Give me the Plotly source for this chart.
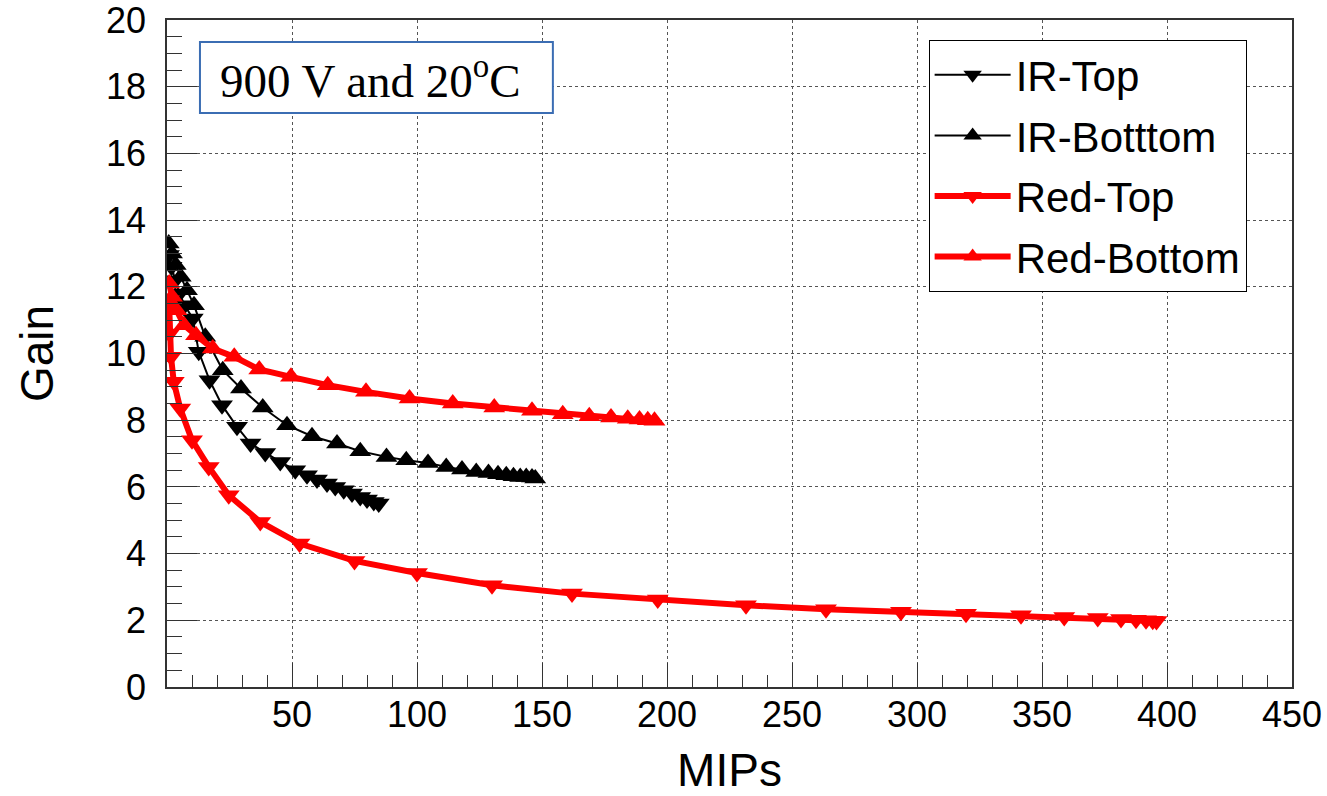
import plotly.graph_objects as go

# Gain vs. number of MIPs at 900 V, 20 C for the four SiPM/LED configurations
ir_top_mips = [0.8, 1.8, 3.3, 5.0, 7.0, 10.3, 12.7, 17.0, 22.0, 28.0, 33.4, 39.3,
               45.3, 51.3, 56.0, 60.0, 64.0, 67.3, 70.7, 74.0, 77.3, 80.0, 82.7, 84.7]
ir_top_gain = [12.95, 12.6, 12.2, 11.8, 11.45, 11.05, 10.05, 9.2, 8.45, 7.8, 7.3, 7.02,
               6.75, 6.5, 6.35, 6.22, 6.1, 6.0, 5.9, 5.8, 5.7, 5.62, 5.55, 5.5]

ir_bottom_mips = [0.7, 2.0, 3.5, 5.5, 8.0, 10.8, 15.3, 22.3, 29.6, 38.3, 48.0, 58.0,
                  68.0, 77.3, 87.8, 95.7, 104.4, 111.7, 118.0, 123.7, 128.6, 132.4,
                  135.7, 138.6, 141.3, 143.7, 146.0, 147.3]
ir_bottom_gain = [13.3, 13.0, 12.65, 12.3, 11.9, 11.45, 10.5, 9.5, 8.95, 8.38, 7.85,
                  7.52, 7.3, 7.07, 6.9, 6.8, 6.72, 6.6, 6.52, 6.45, 6.42, 6.38, 6.35,
                  6.32, 6.3, 6.3, 6.28, 6.25]

red_top_mips = [0.8, 1.0, 1.6, 2.7, 5.3, 10.0, 16.7, 24.7, 37.3, 53.0, 75.0, 100.0,
                130.0, 162.0, 196.3, 231.6, 263.6, 293.6, 319.6, 341.6, 358.9, 372.3,
                381.6, 387.6, 391.6, 394.3, 395.8]
red_top_gain = [11.6, 10.6, 9.9, 9.15, 8.35, 7.4, 6.6, 5.75, 4.95, 4.3, 3.78, 3.42,
                3.05, 2.8, 2.62, 2.45, 2.33, 2.26, 2.2, 2.15, 2.1, 2.07, 2.04, 2.02,
                2.0, 1.99, 1.98]

red_bottom_mips = [0.9, 2.0, 3.8, 6.8, 11.6, 18.3, 26.9, 36.9, 49.6, 64.3, 79.6, 97.0,
                   114.3, 130.9, 146.0, 158.3, 168.9, 177.6, 184.3, 189.0, 192.3, 195.0]
red_bottom_gain = [12.1, 11.7, 11.3, 10.85, 10.55, 10.15, 9.9, 9.52, 9.3, 9.05, 8.85,
                   8.65, 8.5, 8.38, 8.28, 8.18, 8.12, 8.08, 8.04, 8.02, 8.0, 7.98]

x_major = [50, 100, 150, 200, 250, 300, 350, 400, 450]
x_minor = [v for v in range(10, 450, 10) if v % 50]
y_major = list(range(0, 21, 2))
y_minor = [v / 2 for v in range(1, 40) if v % 4]

RED = "#ff0000"
BLACK = "#000000"

fig = go.Figure()

series = [
    ("IR-Top", ir_top_mips, ir_top_gain, BLACK, 2, "triangle-down"),
    ("IR-Botttom", ir_bottom_mips, ir_bottom_gain, BLACK, 2, "triangle-up"),
    ("Red-Top", red_top_mips, red_top_gain, RED, 6, "triangle-down"),
    ("Red-Bottom", red_bottom_mips, red_bottom_gain, RED, 6, "triangle-up"),
]
for name, xs, ys, color, lw, sym in series:
    fig.add_trace(go.Scatter(
        x=xs, y=ys, name=name, legendgroup=name, mode="lines+markers",
        line=dict(color=color, width=lw),
        marker=dict(symbol=sym, size=19, color=color, line=dict(width=0)),
    ))

axis_common = dict(
    showline=True, linecolor="#333333", linewidth=1.5, mirror=True,
    ticks="inside", tickcolor="#333333", tickwidth=1,
    showgrid=True, gridcolor="#555555", gridwidth=1, griddash="dot",
    zeroline=False, automargin=False,
    tickfont=dict(family="Liberation Sans, Arial", size=36, color="black"),
    title_font=dict(family="Liberation Sans, Arial", size=46, color="black"),
)

fig.update_xaxes(
    **axis_common, range=[0, 450], tickmode="array", tickvals=x_major,
    ticklen=24, ticklabelstandoff=-5, title_text="MIPs", title_standoff=22,
    minor=dict(tickmode="array", tickvals=x_minor, ticks="inside", ticklen=12,
               tickcolor="#333333", showgrid=False),
)
fig.update_yaxes(
    **axis_common, range=[0, 20.0001], tickmode="array", tickvals=y_major,
    ticklen=30, ticklabelstandoff=12, ticklabeloverflow="allow",
    title_text="Gain", title_standoff=38,
    minor=dict(tickmode="array", tickvals=y_minor, ticks="inside", ticklen=15,
               tickcolor="#333333", showgrid=False),
)

# Operating-condition label in a framed box
fig.add_shape(type="rect", xref="paper", yref="paper",
              x0=0.0293, x1=0.343, y0=0.8606, y1=0.967,
              line=dict(color="#3b6db3", width=2), fillcolor="white", layer="above")
fig.add_annotation(xref="paper", yref="paper", x=0.181, y=0.914,
                   xanchor="center", yanchor="middle",
                   text="900 V and 20<sup>o</sup>C", showarrow=False,
                   font=dict(family="Liberation Serif, Times New Roman", size=47, color="black"))

fig.update_layout(
    width=1327, height=796,
    margin=dict(l=167, r=35, t=20, b=109),
    paper_bgcolor="white", plot_bgcolor="white",
    showlegend=True,
    legend=dict(
        x=0.677, y=0.970, xanchor="left", yanchor="top",
        bgcolor="white", bordercolor="black", borderwidth=1,
        font=dict(family="Liberation Sans, Arial", size=42, color="black"),
        itemwidth=76, tracegroupgap=3, entrywidth=270,
    ),
)

fig.write_html("out.html")
